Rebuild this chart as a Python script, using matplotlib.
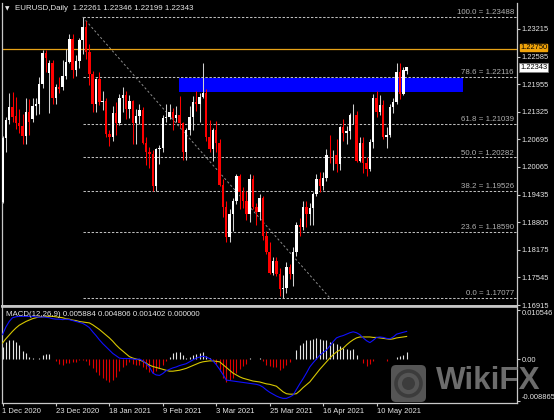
import matplotlib
matplotlib.use("Agg")
import matplotlib.pyplot as plt
import matplotlib.transforms as mtransforms
from matplotlib.patches import Rectangle, FancyBboxPatch, Circle

# ---------------- data ----------------
date_tick_pos = [0, 16, 32, 48, 64, 80, 96, 112]
date_tick_labels = ["1 Dec 2020", "23 Dec 2020", "18 Jan 2021", "9 Feb 2021",
                    "3 Mar 2021", "25 Mar 2021", "16 Apr 2021", "10 May 2021"]

opens = [1.1927, 1.2072, 1.2113, 1.2144, 1.2122, 1.2107, 1.2100, 1.2078, 1.2132, 1.2117,
         1.2146, 1.2151, 1.2197, 1.2266, 1.2222, 1.2245, 1.2163, 1.2188, 1.2190, 1.2215,
         1.2247, 1.2298, 1.2228, 1.2248, 1.2297, 1.2326, 1.2270, 1.2218, 1.2151, 1.2207,
         1.2155, 1.2157, 1.2081, 1.2076, 1.2130, 1.2106, 1.2164, 1.2170, 1.2140, 1.2158,
         1.2108, 1.2123, 1.2136, 1.2062, 1.2040, 1.2037, 1.1963, 1.2047, 1.2050, 1.2119,
         1.2120, 1.2132, 1.2118, 1.2125, 1.2107, 1.2040, 1.2092, 1.2120, 1.2156, 1.2151,
         1.2166, 1.2175, 1.2075, 1.2048, 1.2090, 1.2062, 1.1966, 1.1915, 1.1847, 1.1900,
         1.1928, 1.1985, 1.1950, 1.1930, 1.1900, 1.1978, 1.1915, 1.1904, 1.1936, 1.1850,
         1.1813, 1.1764, 1.1792, 1.1763, 1.1728, 1.1730, 1.1778, 1.1762, 1.1813, 1.1875,
         1.1869, 1.1916, 1.1899, 1.1912, 1.1946, 1.1978, 1.1964, 1.1982, 1.2035, 1.2034,
         1.2035, 1.2013, 1.2097, 1.2083, 1.2088, 1.2125, 1.2125, 1.2020, 1.2062, 1.2016,
         1.2003, 1.2064, 1.2165, 1.2131, 1.2149, 1.2074, 1.2080, 1.2143, 1.2154, 1.2224,
         1.2174, 1.22261]
highs = [1.2077, 1.2121, 1.2176, 1.2178, 1.2167, 1.2140, 1.2127, 1.2164, 1.2162, 1.2163,
         1.2165, 1.2211, 1.2273, 1.2274, 1.2251, 1.2250, 1.2197, 1.2212, 1.2250, 1.2275,
         1.2310, 1.2310, 1.2262, 1.2302, 1.2349, 1.2340, 1.2287, 1.2225, 1.2210, 1.2223,
         1.2180, 1.2164, 1.2090, 1.2145, 1.2155, 1.2173, 1.2190, 1.2180, 1.2170, 1.2160,
         1.2138, 1.2150, 1.2144, 1.2075, 1.2052, 1.2045, 1.2050, 1.2056, 1.2125, 1.2150,
         1.2150, 1.2142, 1.2145, 1.2169, 1.2110, 1.2095, 1.2145, 1.2168, 1.2180, 1.2175,
         1.2243, 1.2185, 1.2113, 1.2095, 1.2112, 1.2070, 1.1979, 1.1930, 1.1910, 1.1935,
         1.1990, 1.1990, 1.1960, 1.1952, 1.1990, 1.1988, 1.1925, 1.1944, 1.1940, 1.1860,
         1.1835, 1.1800, 1.1800, 1.1775, 1.1760, 1.1790, 1.1785, 1.1825, 1.1880, 1.1890,
         1.1928, 1.1928, 1.1925, 1.1950, 1.1990, 1.1995, 1.1995, 1.2048, 1.2080, 1.2045,
         1.2070, 1.2100, 1.2117, 1.2100, 1.2130, 1.2150, 1.2135, 1.2075, 1.2075, 1.2030,
         1.2070, 1.2172, 1.2180, 1.2170, 1.2160, 1.2098, 1.2150, 1.2163, 1.2245, 1.2245,
         1.2235, 1.22346]
lows = [1.1925, 1.2040, 1.2105, 1.2110, 1.2093, 1.2085, 1.2059, 1.2060, 1.2080, 1.2110,
        1.2125, 1.2127, 1.2187, 1.2223, 1.2130, 1.2151, 1.2151, 1.2175, 1.2182, 1.2208,
        1.2245, 1.2210, 1.2215, 1.2232, 1.2265, 1.2252, 1.2193, 1.2132, 1.2132, 1.2148,
        1.2137, 1.2075, 1.2055, 1.2066, 1.2080, 1.2102, 1.2132, 1.2115, 1.2118, 1.2058,
        1.2058, 1.2105, 1.2060, 1.2011, 1.2004, 1.1951, 1.1952, 1.2014, 1.2040, 1.2110,
        1.2115, 1.2090, 1.2110, 1.2096, 1.2023, 1.2023, 1.2080, 1.2090, 1.2135, 1.2110,
        1.2165, 1.2065, 1.2040, 1.2020, 1.2040, 1.1964, 1.1893, 1.1836, 1.1835, 1.1860,
        1.1922, 1.1910, 1.1913, 1.1885, 1.1882, 1.1910, 1.1874, 1.1885, 1.1840, 1.1809,
        1.1762, 1.1760, 1.1757, 1.1712, 1.1708, 1.1720, 1.1750, 1.1735, 1.1804, 1.1850,
        1.1862, 1.1870, 1.1873, 1.1873, 1.1940, 1.1950, 1.1955, 1.1975, 1.2015, 1.2000,
        1.1995, 1.2000, 1.2066, 1.2060, 1.2070, 1.2105, 1.2018, 1.2017, 1.1992, 1.1985,
        1.1997, 1.2050, 1.2120, 1.2126, 1.2070, 1.2050, 1.2076, 1.2130, 1.2150, 1.2162,
        1.2170, 1.22199]
closes = [1.2072, 1.2113, 1.2144, 1.2120, 1.2107, 1.2100, 1.2078, 1.2132, 1.2110, 1.2146,
          1.2151, 1.2197, 1.2266, 1.2255, 1.2243, 1.2163, 1.2188, 1.2184, 1.2215, 1.2247,
          1.2298, 1.2228, 1.2248, 1.2297, 1.2326, 1.2270, 1.2218, 1.2151, 1.2207, 1.2155,
          1.2157, 1.2081, 1.2076, 1.2130, 1.2106, 1.2164, 1.2170, 1.2140, 1.2158, 1.2108,
          1.2123, 1.2136, 1.2062, 1.2040, 1.2037, 1.1963, 1.2047, 1.2050, 1.2119, 1.2120,
          1.2132, 1.2118, 1.2125, 1.2107, 1.2040, 1.2092, 1.2120, 1.2156, 1.2151, 1.2166,
          1.2175, 1.2075, 1.2048, 1.2090, 1.2062, 1.1966, 1.1915, 1.1847, 1.1900, 1.1928,
          1.1985, 1.1950, 1.1930, 1.1900, 1.1978, 1.1915, 1.1904, 1.1936, 1.1850, 1.1813,
          1.1764, 1.1792, 1.1763, 1.1728, 1.1730, 1.1778, 1.1762, 1.1813, 1.1875, 1.1869,
          1.1916, 1.1899, 1.1912, 1.1946, 1.1978, 1.1964, 1.1982, 1.2035, 1.2034, 1.2035,
          1.2013, 1.2097, 1.2083, 1.2088, 1.2125, 1.2125, 1.2020, 1.2062, 1.2016, 1.2003,
          1.2064, 1.2165, 1.2131, 1.2149, 1.2074, 1.2080, 1.2143, 1.2154, 1.2224, 1.2174,
          1.2227, 1.22343]

macd_main = [0.0052, 0.0068, 0.0080, 0.0088, 0.0090, 0.0091, 0.0091, 0.0091, 0.0091, 0.0091,
             0.0090, 0.0089, 0.0090, 0.0089, 0.0088, 0.0086, 0.0085, 0.0085, 0.0084, 0.0085,
             0.0084, 0.0082, 0.0080, 0.0078, 0.0076, 0.0072, 0.0067, 0.0058, 0.0050, 0.0041,
             0.0033, 0.0026, 0.0019, 0.0012, 0.0007, 0.0002, 0.0001, 0.0001, 0.0001, 0.0000,
             -0.0001, 0.0000, -0.0004, -0.0010, -0.0017, -0.0030, -0.0034, -0.0035, -0.0031, -0.0025,
             -0.0022, -0.0019, -0.0017, -0.0014, -0.0012, -0.0010, -0.0006, -0.0002, 0.0002, 0.0004,
             0.0006, 0.0004, 0.0001, -0.0004, -0.0012, -0.0022, -0.0033, -0.0045, -0.0046, -0.0047,
             -0.0048, -0.0049, -0.0050, -0.0051, -0.0052, -0.0053, -0.0054, -0.0056, -0.0060, -0.0066,
             -0.0071, -0.0075, -0.0079, -0.0082, -0.0084, -0.0084, -0.0081, -0.0077, -0.0065, -0.0053,
             -0.0042, -0.0030, -0.0017, -0.0008, 0.0000, 0.0008, 0.0014, 0.0019, 0.0028, 0.0037,
             0.0045, 0.0048, 0.0050, 0.0053, 0.0056, 0.0058, 0.0056, 0.0052, 0.0045, 0.0039,
             0.0035, 0.0040, 0.0046, 0.0047, 0.0046, 0.0044, 0.0043, 0.0047, 0.0053, 0.0055,
             0.0057, 0.005884]
macd_signal = [0.0034, 0.0043, 0.0051, 0.0059, 0.0066, 0.0072, 0.0076, 0.0080, 0.0083, 0.0086,
               0.0088, 0.0090, 0.0090, 0.0091, 0.0091, 0.0091, 0.0090, 0.0089, 0.0088, 0.0086,
               0.0085, 0.0083, 0.0082, 0.0080, 0.0079, 0.0078, 0.0077, 0.0073, 0.0068, 0.0063,
               0.0057, 0.0051, 0.0045, 0.0038, 0.0030, 0.0023, 0.0017, 0.0011, 0.0005, 0.0002,
               0.0000, -0.0002, -0.0005, -0.0009, -0.0013, -0.0016, -0.0018, -0.0020, -0.0022, -0.0024,
               -0.0026, -0.0026, -0.0025, -0.0024, -0.0022, -0.0020, -0.0017, -0.0014, -0.0011, -0.0008,
               -0.0006, -0.0005, -0.0004, -0.0004, -0.0005, -0.0006, -0.0012, -0.0018, -0.0024, -0.0030,
               -0.0034, -0.0038, -0.0041, -0.0043, -0.0045, -0.0047, -0.0048, -0.0049, -0.0051, -0.0053,
               -0.0054, -0.0056, -0.0058, -0.0064, -0.0070, -0.0074, -0.0075, -0.0075, -0.0074, -0.0068,
               -0.0061, -0.0055, -0.0049, -0.0040, -0.0031, -0.0022, -0.0014, -0.0006, 0.0002, 0.0009,
               0.0015, 0.0019, 0.0023, 0.0030, 0.0036, 0.0041, 0.0045, 0.0047, 0.0047, 0.0047,
               0.0047, 0.0046, 0.0046, 0.0045, 0.0044, 0.0043, 0.0042, 0.0043, 0.0045, 0.0046,
               0.0047, 0.004806]
macd_hist = [0.0025, 0.0037, 0.0041, 0.0041, 0.0036, 0.0030, 0.0017, 0.0012, 0.0005, 0.0002,
             0.0000, 0.0002, 0.0008, 0.0010, 0.0010, 0.0000, -0.0005, -0.0010, -0.0012, -0.0008,
             -0.0008, -0.0006, -0.0006, -0.0003, -0.0002, -0.0005, -0.0012, -0.0020, -0.0028, -0.0035,
             -0.0040, -0.0045, -0.0049, -0.0045, -0.0038, -0.0025, -0.0018, -0.0012, -0.0007, -0.0010,
             -0.0012, -0.0013, -0.0018, -0.0022, -0.0028, -0.0030, -0.0025, -0.0020, -0.0012, -0.0005,
             0.0004, 0.0012, 0.0015, 0.0014, 0.0008, 0.0003, 0.0005, 0.0008, 0.0010, 0.0013,
             0.0015, 0.0006, 0.0002, -0.0003, -0.0010, -0.0025, -0.0040, -0.0048, -0.0045, -0.0040,
             -0.0030, -0.0022, -0.0015, -0.0010, 0.0002, 0.0001, -0.0001, 0.0002, -0.0005, -0.0012,
             -0.0015, -0.0018, -0.0018, -0.0024, -0.0020, -0.0013, -0.0006, 0.0000, 0.0019, 0.0030,
             0.0035, 0.0040, 0.0041, 0.0042, 0.0045, 0.0042, 0.0041, 0.0040, 0.0037, 0.0034,
             0.0032, 0.0028, 0.0024, 0.0021, 0.0019, 0.0021, 0.0009, 0.0000, -0.0009, -0.0015,
             -0.0010, -0.0004, 0.0001, 0.0001, 0.0000, -0.0004, 0.0000, 0.0000, 0.0005, 0.0007,
             0.0009, 0.001402]

price_ticks = [1.16915, 1.17545, 1.18175, 1.18805, 1.19435, 1.20065,
               1.20695, 1.21325, 1.21955, 1.22585, 1.23215]
fib_names = ["0.0", "23.6", "38.2", "50.0", "61.8", "78.6", "100.0"]
fib_values = [1.17077, 1.18590, 1.19526, 1.20282, 1.21039, 1.22116, 1.23488]
fib_anchor_bars = [24, 98]
fib_anchor_prices = [1.23488, 1.17077]
zone_bars = [52.8, 137.9]
zone_prices = [1.2178, 1.2210]
hline_price = 1.22750
last_price = 1.22343
macd_ticks = [0.010546, 0.0, -0.008865]
macd_tick_labels = ["0.010546", "0.00", "-0.008865"]
title_text = "EURUSD,Daily  1.22261 1.22346 1.22199 1.22343"
macd_text = "MACD(12,26,9) 0.005884 0.004806 0.001402 0.000000"

# ---------------- figure ----------------
W, H = 554, 420
FONT = ["Liberation Sans", "DejaVu Sans"]
plt.rcParams["font.family"] = FONT
FS = 5.7     # title / fib labels
AFS = 5.4    # axis labels
GRID = "#c8c8c8"
TXT = "#e6e6e6"

fig = plt.figure(figsize=(W / 100, H / 100), dpi=100, facecolor="black")


def frac(x0, y0, x1, y1):
    return [x0 / W, 1 - y1 / H, (x1 - x0) / W, (y1 - y0) / H]


ax = fig.add_axes(frac(2, 3, 517, 306))
axm = fig.add_axes(frac(2, 307, 517, 403), sharex=ax)

n = len(closes)
idx = list(range(n))
px_per_bar = 3.34
x_left = -0.5 / px_per_bar
x_right = x_left + 515 / px_per_bar
ppu = 4381.0  # pixels per price unit
ax.set_xlim(x_left, x_right)
ax.set_ylim(1.16915 - 1 / ppu, 1.16915 + 302 / ppu)

for a in (ax, axm):
    a.set_facecolor("black")
    for s in a.spines.values():
        s.set_color(GRID)
        s.set_linewidth(0.9)
ax.spines["top"].set_visible(False)
ax.spines["bottom"].set_linewidth(1.4)
axm.spines["top"].set_linewidth(1.2)

# blue zone
ax.add_patch(Rectangle((zone_bars[0], zone_prices[0]), zone_bars[1] - zone_bars[0],
                       zone_prices[1] - zone_prices[0], facecolor="#0000ff",
                       edgecolor="none", zorder=1))

# fib levels
ax.hlines(fib_values, fib_anchor_bars[0], x_right, colors="#bdbdbd",
          linewidth=0.75, linestyles=(0, (2.3, 1.6)), zorder=2)
for name, val in zip(fib_names, fib_values):
    ax.annotate(f"{name} = {val:.5f}", xy=(x_right, val), xytext=(-2.2, 0.6),
                textcoords="offset points", ha="right", va="bottom",
                color="#b0b0b0", fontsize=FS, zorder=3)
ax.plot(fib_anchor_bars, fib_anchor_prices, color="#8c8c8c", linewidth=0.7,
        linestyle=(0, (2.3, 2.3)), zorder=2)

# orange horizontal line
ax.axhline(hline_price, color="#e8a317", linewidth=0.9, zorder=2)

# candles
up_col, dn_col = "#ffffff", "#ff0000"
wick_cols = []
body_bottoms, body_heights, body_cols = [], [], []
for o, c in zip(opens, closes):
    up = c >= o
    col = up_col if up else dn_col
    wick_cols.append("#d0d0d0" if up else dn_col)
    body_cols.append(col)
    body_bottoms.append(min(o, c))
    body_heights.append(max(abs(c - o), 0.00006))
ax.vlines(idx, lows, highs, colors=wick_cols, linewidth=0.75, zorder=4)
ax.bar(idx, body_heights, bottom=body_bottoms, width=0.72, color=body_cols,
       edgecolor="none", zorder=5)

# price axis
ax.yaxis.tick_right()
ax.set_yticks(price_ticks)
ax.set_yticklabels([f"{p:.5f}" for p in price_ticks])
ax.tick_params(axis="y", direction="out", length=2.2, width=0.8, color=GRID,
               labelcolor=TXT, labelsize=AFS, pad=1.2)
ax.tick_params(axis="x", bottom=False, labelbottom=False)

# price boxes
ax.annotate(f"{hline_price:.5f}", xy=(1, hline_price), xycoords=("axes fraction", "data"),
            xytext=(2.2, 1.3), textcoords="offset points", ha="left", va="center",
            fontsize=AFS, color="black", annotation_clip=False, zorder=6,
            bbox=dict(boxstyle="square,pad=0.02", fc="#f0a30a", ec="#f0a30a"))
ax.annotate(f"{last_price:.5f}", xy=(1, last_price), xycoords=("axes fraction", "data"),
            xytext=(2.2, 0), textcoords="offset points", ha="left", va="center",
            fontsize=AFS, color="black", annotation_clip=False, zorder=6,
            bbox=dict(boxstyle="square,pad=0.12", fc="white", ec="#808080", lw=0.5))

# title
fig.text(5 / W, 1 - 8.5 / H, "\u25bc", color=TXT, fontsize=4.2, va="center",
         family=["DejaVu Sans"])
fig.text(15 / W, 1 - 8.5 / H, title_text, color=TXT, fontsize=FS, va="center")

# ---------------- MACD panel ----------------
mppu = 4688.0
axm.set_ylim(-(403 - 359) / mppu, (359 - 307) / mppu)
pos_x = [i for i, h in zip(idx, macd_hist) if h > 0]
pos_h = [h for h in macd_hist if h > 0]
neg_x = [i for i, h in zip(idx, macd_hist) if h < 0]
neg_h = [h for h in macd_hist if h < 0]
axm.vlines(pos_x, 0, pos_h, colors="#e4e4e4", linewidth=0.8, zorder=2)
axm.vlines(neg_x, 0, neg_h, colors="#e00000", linewidth=0.8, zorder=2)
axm.plot(idx, macd_signal, color="#d8c800", linewidth=0.8, zorder=3)
axm.plot(idx, macd_main, color="#1010ff", linewidth=0.8, zorder=4)

axm.yaxis.tick_right()
axm.set_yticks(macd_ticks)
axm.set_yticklabels(macd_tick_labels)
axm.tick_params(axis="y", direction="out", length=2.2, width=0.8, color=GRID,
                labelcolor=TXT, labelsize=AFS, pad=1.0)
ylabs = axm.get_yticklabels()
ylabs[0].set_va("top")
ylabs[-1].set_va("bottom")

axm.set_xticks(date_tick_pos)
axm.set_xticklabels(date_tick_labels, ha="left")
axm.tick_params(axis="x", direction="out", length=2.5, width=0.8, color=GRID,
                labelcolor=TXT, labelsize=5.5, pad=0.8)

fig.text(6 / W, 1 - 315 / H, macd_text, color=TXT, fontsize=FS, va="center")

# ---------------- watermark ----------------
ident = mtransforms.IdentityTransform()
fig.add_artist(FancyBboxPatch((391, H - 402), 35, 37,
                              boxstyle="round,pad=0,rounding_size=5",
                              transform=ident, facecolor="#5a5a5a",
                              edgecolor="none", alpha=0.95, zorder=10))
fig.add_artist(Circle((408.5, H - 383.5), 12.5, transform=ident, facecolor="none",
                      edgecolor="#3c3c3c", linewidth=2.6, zorder=11))
fig.add_artist(Circle((408.5, H - 383.5), 6.5, transform=ident, facecolor="#3c3c3c",
                      edgecolor="none", zorder=11))
fig.text(436 / W, 1 - 381 / H, "WikiFX", color="#6c6c6c", fontsize=22.6,
         fontweight="bold", va="center", ha="left", zorder=10)

fig.savefig("out.png", dpi=100, facecolor="black")
